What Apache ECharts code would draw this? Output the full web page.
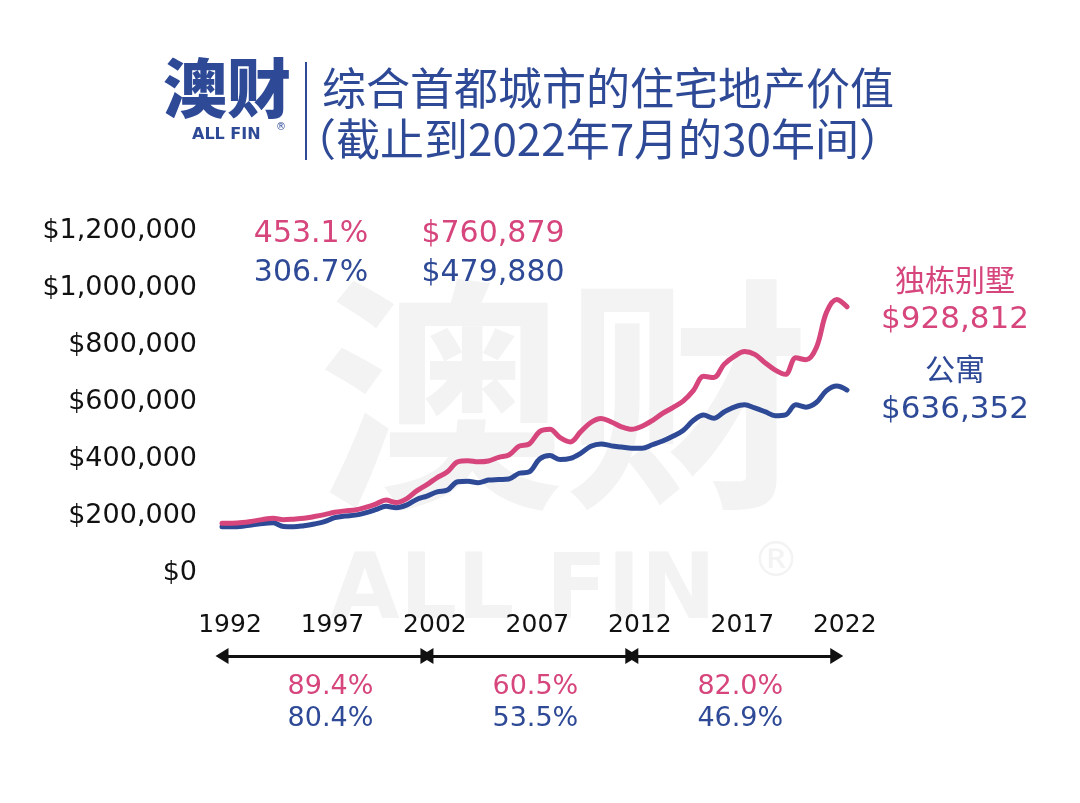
<!DOCTYPE html>
<html>
<head>
<meta charset="utf-8">
<script src="https://cdn.jsdelivr.net/npm/echarts@6/dist/echarts.min.js"></script>
<style>
html,body{margin:0;padding:0;background:#fff;}
#c{width:1080px;height:803px;}
</style>
</head>
<body>
<div id="c"></div>
<script>
// ---- data ----
const periods = [1992,1992.5,1993,1993.5,1994,1994.5,1995,1995.5,1996,1996.5,1997,1997.5,1998,1998.5,1999,1999.5,
  2000,2000.5,2001,2001.5,2002,2002.5,2003,2003.5,2004,2004.5,2005,2005.5,2006,2006.5,2007,2007.5,
  2008,2008.5,2009,2009.5,2010,2010.5,2011,2011.5,2012,2012.5,2013,2013.5,2014,2014.5,2015,2015.5,
  2016,2016.5,2017,2017.5,2018,2018.5,2019,2019.5,2020,2020.5,2021,2021.5,2022,2022.5];
const houseValues = [175000,175000,177000,182000,188000,192000,187000,189000,192000,198000,205000,213000,218000,221000,230000,242000,
  256000,247000,260000,288000,310000,335000,355000,390000,394000,390000,393000,406000,414000,445000,453000,496000,
  504000,475000,460000,495000,528000,542000,530000,513000,504000,515000,535000,560000,580000,603000,640000,690000,
  686000,732000,760000,777000,767000,738000,712000,697000,755000,748000,790000,915000,960000,934000];
const unitValues = [162000,162000,164000,169000,174000,176000,163000,162000,166000,172000,180000,194000,200000,203000,211000,222000,
  234000,229000,238000,258000,270000,285000,291000,320000,322000,317000,326000,328000,330000,350000,355000,400000,
  412000,398000,402000,420000,445000,453000,446000,442000,438000,438000,450000,463000,480000,500000,535000,554000,
  543000,565000,582000,590000,579000,566000,552000,555000,590000,582000,598000,640000,656000,642000];
const seriesNames = ['独栋别墅','公寓'];
const endValues = ['$928,812','$636,352'];
const totalGrowth = ['453.1%','306.7%'];
const medianPrices = ['$760,879','$479,880'];
const decadeBounds = [1992,2002,2012,2022];
const decadeMids = [1997,2007,2017];
const decadeHouseGrowth = ['89.4%','60.5%','82.0%'];
const decadeUnitGrowth = ['80.4%','53.5%','46.9%'];
const titleLines = ['综合首都城市的住宅地产价值','（截止到2022年7月的30年间）'];

// ---- style ----
const PINK = '#d6457c';
const BLUE = '#2e4a97';
const WM = '#f3f3f3';
const NUMFONT = '"DejaVu Sans", sans-serif';
const CJK = '"Noto Sans CJK SC", sans-serif';

const chart = echarts.init(document.getElementById('c'), null, {renderer:'canvas'});

const houseData = periods.map((p,i)=>[p,houseValues[i]]);
const unitData = periods.map((p,i)=>[p,unitValues[i]]);

const arrowSegs = [];
for (let i=0;i<decadeBounds.length-1;i++){
  arrowSegs.push([{coord:[decadeBounds[i],0.5]},{coord:[decadeBounds[i+1],0.5]}]);
}
const pctData = decadeMids.map((m,i)=>({value:[m,0.5], h:decadeHouseGrowth[i], u:decadeUnitGrowth[i]}));

const option = {
  backgroundColor:'#fff',
  animation:false,
  grid:[
    {left:222, right:233, top:231, bottom:230},
    {left:222, right:233, top:641, height:30}
  ],
  xAxis:[
    {type:'value', gridIndex:0, min:1992, max:2022.5, interval:5,
     axisLine:{show:false}, axisTick:{show:false}, splitLine:{show:false},
     axisLabel:{show:true, showMaxLabel:false, margin:40, padding:[0,0,0,16],
       fontFamily:NUMFONT, fontSize:25, color:'#111',
       formatter:v=> (Math.abs(v-Math.round(v))<1e-6 ? String(Math.round(v)) : '')}},
    {type:'value', gridIndex:1, min:1992, max:2022.5, show:false}
  ],
  yAxis:[
    {type:'value', gridIndex:0, min:0, max:1200000, interval:200000,
     axisLine:{show:false}, axisTick:{show:false}, splitLine:{show:false},
     axisLabel:{margin:25, fontFamily:NUMFONT, fontSize:27, color:'#111',
       formatter:v=>'$'+v.toLocaleString('en-US')}},
    {type:'value', gridIndex:1, min:0, max:1, show:false}
  ],
  graphic:[
    // watermark
    {type:'text', z:-10, silent:true, left:318, top:272,
     style:{text:'澳财', font:'bold 246px '+CJK, fill:WM}},
    {type:'text', z:-10, silent:true, left:330, top:550,
     style:{text:'ALL FIN', font:'bold 90px "DejaVu Sans", sans-serif', fill:WM}},
    {type:'text', z:-10, silent:true, left:752, top:540,
     style:{text:'®', font:'48px "DejaVu Sans", sans-serif', fill:WM}},
    // logo
    {type:'text', left:163, top:56,
     style:{text:'澳财', font:'900 64px '+CJK, fill:BLUE}},
    {type:'text', left:192, top:127,
     style:{text:'ALL FIN', font:'bold 16px "DejaVu Sans", sans-serif', fill:BLUE}},
    {type:'text', left:276, top:122,
     style:{text:'®', font:'10px "DejaVu Sans", sans-serif', fill:BLUE}},
    {type:'line', shape:{x1:306,y1:62,x2:306,y2:160}, style:{stroke:BLUE, lineWidth:2}},
    // title
    {type:'text', x:322, y:88,
     style:{text:titleLines[0], font:'44px '+CJK, fill:BLUE, verticalAlign:'middle', textAlign:'left'}},
    {type:'text', x:292, y:139,
     style:{text:titleLines[1], font:'44px '+CJK, fill:BLUE, verticalAlign:'middle', textAlign:'left'}},
    // top annotations
    {type:'text', x:311, y:234, style:{text:totalGrowth[0], font:'30px '+NUMFONT, fill:PINK, textAlign:'center', verticalAlign:'middle'}},
    {type:'text', x:311, y:273, style:{text:totalGrowth[1], font:'30px '+NUMFONT, fill:BLUE, textAlign:'center', verticalAlign:'middle'}},
    {type:'text', x:493, y:234, style:{text:medianPrices[0], font:'30px '+NUMFONT, fill:PINK, textAlign:'center', verticalAlign:'middle'}},
    {type:'text', x:493, y:273, style:{text:medianPrices[1], font:'30px '+NUMFONT, fill:BLUE, textAlign:'center', verticalAlign:'middle'}},
    // right labels
    {type:'text', x:955, y:280, style:{text:seriesNames[0], font:'30px '+CJK, fill:PINK, textAlign:'center', verticalAlign:'middle'}},
    {type:'text', x:955, y:320, style:{text:endValues[0], font:'31px '+NUMFONT, fill:PINK, textAlign:'center', verticalAlign:'middle'}},
    {type:'text', x:955, y:369, style:{text:seriesNames[1], font:'30px '+CJK, fill:BLUE, textAlign:'center', verticalAlign:'middle'}},
    {type:'text', x:955, y:410, style:{text:endValues[1], font:'31px '+NUMFONT, fill:BLUE, textAlign:'center', verticalAlign:'middle'}}
  ],
  series:[
    {name:seriesNames[0], type:'line', xAxisIndex:0, yAxisIndex:0, data:houseData,
     smooth:0.35, showSymbol:false, symbol:'none', z:4,
     lineStyle:{color:PINK, width:5, cap:'round', join:'round'}},
    {name:seriesNames[1], type:'line', xAxisIndex:0, yAxisIndex:0, data:unitData,
     smooth:0.35, showSymbol:false, symbol:'none', z:3,
     lineStyle:{color:BLUE, width:5, cap:'round', join:'round'}},
    {type:'line', xAxisIndex:1, yAxisIndex:1, data:[], silent:true,
     markLine:{silent:true, symbol:['triangle','triangle'], symbolSize:[16,13],
       lineStyle:{color:'#111', width:3, type:'solid'},
       label:{show:false}, data:arrowSegs}},
    {type:'scatter', xAxisIndex:1, yAxisIndex:1, data:pctData, symbolSize:1,
     itemStyle:{color:'rgba(0,0,0,0)', opacity:1}, silent:true,
     label:{show:true, position:'bottom', distance:14, offset:[6,0], opacity:1,
       formatter:p=>'{h|'+p.data.h+'}\n{u|'+p.data.u+'}',
       rich:{h:{fontFamily:NUMFONT, fontSize:27, color:PINK, lineHeight:32, align:'center', opacity:1},
             u:{fontFamily:NUMFONT, fontSize:27, color:BLUE, lineHeight:32, align:'center', opacity:1}}}}
  ]
};
chart.setOption(option);
</script>
</body>
</html>
